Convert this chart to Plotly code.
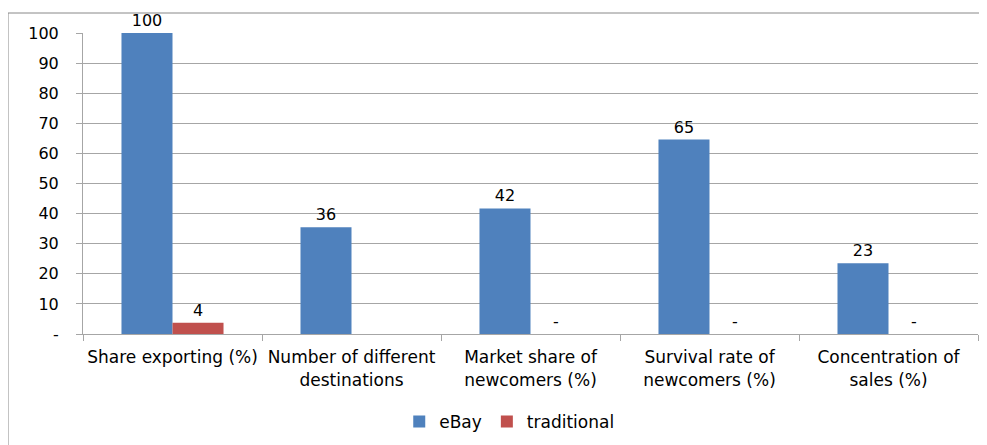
import plotly.graph_objects as go

categories = ["Share exporting (%)", "Number of different<br>destinations",
              "Market share of<br>newcomers (%)", "Survival rate of<br>newcomers (%)",
              "Concentration of<br>sales (%)"]
ebay_values = [100, 35.5, 41.7, 64.6, 23.5]
ebay_labels = ["100", "36", "42", "65", "23"]
trad_values = [3.7, None, 0, 0, 0]
trad_labels = ["4", "", "-", "-", "-"]
y_tickvals = [0, 10, 20, 30, 40, 50, 60, 70, 80, 90, 100]
y_ticktext = ["-", "10", "20", "30", "40", "50", "60", "70", "80", "90", "100"]

FONT = "DejaVu Sans"
W, H = 979, 437  # page body has an 8px margin
L, R, T, B = 75, 9, 25, 111
PW, PH = W - L - R, H - T - B

fig = go.Figure()
fig.add_trace(go.Bar(name="eBay", x=categories, y=ebay_values, text=ebay_labels,
                     textposition="outside", marker_color="#4F81BD",
                     marker_line_width=0, cliponaxis=False,
                     textfont=dict(size=16, color="#000000", family=FONT)))
fig.add_trace(go.Bar(name="traditional", x=categories, y=trad_values, text=trad_labels,
                     textposition="outside", marker_color="#C0504D",
                     marker_line_width=0, cliponaxis=False,
                     textfont=dict(size=16, color="#000000", family=FONT)))

fig.update_layout(
    width=W, height=H,
    margin=dict(l=L, r=R, t=T, b=B, autoexpand=False),
    paper_bgcolor="white", plot_bgcolor="white",
    barmode="group", bargap=0.43, bargroupgap=0,
    font=dict(family=FONT, size=15, color="#000000"),
    showlegend=True,
    legend=dict(orientation="h", xref="container", yref="container",
                x=0.512, xanchor="center", y=0.053, yanchor="middle",
                font=dict(size=17), traceorder="normal"),
)
fig.update_yaxes(range=[0, 100], tickvals=y_tickvals, ticktext=y_ticktext,
                 showgrid=True, gridcolor="#A6A6A6", gridwidth=1,
                 showline=True, linecolor="#A6A6A6", linewidth=1,
                 ticks="outside", ticklen=6, tickcolor="#A6A6A6",
                 ticklabelstandoff=14, automargin=False,
                 zeroline=False, tickfont=dict(size=16))
fig.update_xaxes(showline=True, linecolor="#A6A6A6", linewidth=1,
                 ticks="outside", ticklen=6, tickcolor="#A6A6A6",
                 tickson="boundaries", showgrid=False, automargin=False,
                 tickangle=0, ticklabelstandoff=8, tickfont=dict(size=17))

# outer chart border (left and top edges visible)
top_y = (H - B - 5) / PH
left_x = -L / PW
fig.add_shape(type="line", xref="paper", yref="paper",
              x0=left_x, x1=1.1, y0=top_y, y1=top_y,
              line=dict(color="#888888", width=1))
fig.add_shape(type="line", xref="paper", yref="paper",
              x0=left_x, x1=left_x, y0=top_y, y1=-0.5,
              line=dict(color="#888888", width=1))

fig.write_html("out.html")
